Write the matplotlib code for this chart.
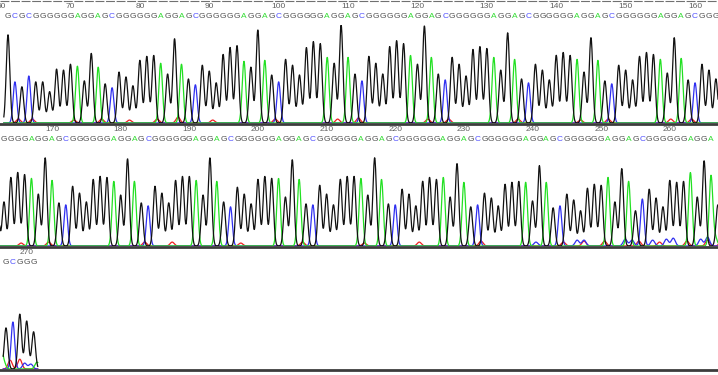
import numpy as np
import matplotlib
matplotlib.use('Agg')
import matplotlib.pyplot as plt
from matplotlib.lines import Line2D

# Base calls, positions 61..271
first_base = 61
calls = ("GCGCGGGGGG"
         "AGGAGCGGGGGG" "AGGAGCGGGGGG" "AGGAGCGGGGGG" "AGGAGCGGGGGG"
         "AGGAGCGGGGGG" "AGGAGCGGGGGG" "AGGAGCGGGGGG" "AGGAGCGGGGGG"
         "AGGAGCGGGGGG" "AGGAGCGGGGGG" "AGGAGCGGGGGG" "AGGAGCGGGGGG"
         "AGGAGCGGGGGG" "AGGAGCGGGGGG" "AGGAGCGGGGGG" "AGGAGCGGGGGG"
         "AGGAGCGGG")

# Peak heights (fraction of panel height)
heights_row1 = [0.90, 0.42, 0.37, 0.48, 0.42, 0.42, 0.32, 0.55, 0.54, 0.60,
                0.58, 0.43, 0.71, 0.57, 0.40, 0.36, 0.52, 0.47, 0.38, 0.64,
                0.68, 0.69, 0.61, 0.50, 0.86, 0.60, 0.45, 0.39, 0.59, 0.53,
                0.41, 0.70, 0.77, 0.79, 0.63, 0.57, 0.95, 0.64, 0.49, 0.42,
                0.65, 0.59, 0.49, 0.77, 0.83, 0.81, 0.67, 0.61, 1.00, 0.67,
                0.50, 0.43, 0.68, 0.61, 0.50, 0.78, 0.84, 0.81, 0.69, 0.60,
                0.99, 0.67, 0.50, 0.44, 0.67, 0.60, 0.48, 0.75, 0.78, 0.76,
                0.67, 0.54, 0.92, 0.65, 0.45, 0.41, 0.60, 0.54, 0.44, 0.69,
                0.72, 0.69, 0.65, 0.52, 0.87, 0.64, 0.43, 0.40, 0.59, 0.54,
                0.44, 0.68, 0.72, 0.70, 0.65, 0.51, 0.87, 0.66, 0.44, 0.41,
                0.60, 0.54]
heights_row2 = [0.45, 0.70, 0.75, 0.73, 0.69, 0.53, 0.90, 0.67, 0.44, 0.42,
                0.61, 0.54, 0.45, 0.68, 0.71, 0.70, 0.66, 0.52, 0.89, 0.66,
                0.44, 0.41, 0.61, 0.54, 0.44, 0.67, 0.71, 0.71, 0.67, 0.52,
                0.90, 0.66, 0.45, 0.40, 0.60, 0.53, 0.43, 0.68, 0.71, 0.69,
                0.69, 0.50, 0.88, 0.68, 0.43, 0.42, 0.62, 0.53, 0.42, 0.68,
                0.71, 0.71, 0.69, 0.52, 0.90, 0.68, 0.43, 0.42, 0.58, 0.53,
                0.41, 0.66, 0.70, 0.68, 0.70, 0.50, 0.84, 0.65, 0.40, 0.42,
                0.54, 0.49, 0.41, 0.63, 0.65, 0.66, 0.65, 0.46, 0.82, 0.65,
                0.39, 0.41, 0.53, 0.47, 0.36, 0.59, 0.63, 0.62, 0.70, 0.45,
                0.79, 0.66, 0.36, 0.48, 0.58, 0.49, 0.40, 0.67, 0.65, 0.66,
                0.75, 0.50, 0.87, 0.71]
heights_row3 = [0.42, 0.48, 0.56, 0.49, 0.38]

# small background bumps (base position, height)
t_noise_pos = [62.5, 64.5, 70.5, 74.5, 78.5, 82.5, 85.5, 90.5, 99.5, 108.5,
               111.5, 121.5, 124.5, 134.5, 143.5, 147.5, 156.5, 159.5,
               165.5, 169.5, 183.5, 187.5, 197.5, 206.5, 215.5, 223.5, 232.5,
               244.5, 247.5, 250.5, 255.5, 258.5, 262.5, 265.5, 267.6, 269.0]
t_noise_h = [0.04, 0.04, 0.03, 0.04, 0.03, 0.04, 0.06, 0.03, 0.04, 0.04,
             0.05, 0.04, 0.04, 0.04, 0.03, 0.04, 0.04, 0.04,
             0.03, 0.04, 0.04, 0.04, 0.03, 0.04, 0.03, 0.04, 0.05,
             0.04, 0.05, 0.05, 0.05, 0.04, 0.05, 0.06, 0.09, 0.10]
c_noise_pos = [240.5, 246.5, 247.5, 253.5, 254.5, 257.5, 259.5, 260.5, 264.5,
               265.5, 269.7, 270.6]
c_noise_h = [0.04, 0.06, 0.06, 0.07, 0.06, 0.06, 0.07, 0.08, 0.07, 0.09,
             0.06, 0.05]
a_noise_pos = [266.6, 271.5]
a_noise_h = [0.09, 0.07]

# row layout: first base, pixel x of first base, pixels per base, top px, baseline px
rows = [(61, 8, 6.94, 25, 123),
        (163, 4, 6.864, 148, 246),
        (267, 6, 6.9, 271, 369)]

trace_col = {'G': '#111111', 'A': '#22e022', 'C': '#3030f0', 'T': '#ee2020'}
text_col = {'G': '#505050', 'A': '#33dd33', 'C': '#5050ff'}

W, H = 718, 375
fig = plt.figure(figsize=(W / 100, H / 100), dpi=100)

heights = heights_row1 + heights_row2 + heights_row3
bases = np.arange(first_base, first_base + len(calls))
last_base = bases[-1]
xs = np.linspace(first_base - 0.6, last_base + 0.6, 6000)
sig = 0.26


def trace(pos, hts, s):
    y = np.zeros_like(xs)
    for p, h in zip(pos, hts):
        y += h * np.exp(-0.5 * ((xs - p) / s) ** 2)
    return y


curves = {}
for ch in 'GAC':
    pos = [b for b, c in zip(bases, calls) if c == ch]
    hts = [h for h, c in zip(heights, calls) if c == ch]
    curves[ch] = trace(pos, hts, sig)
curves['T'] = trace(t_noise_pos, t_noise_h, 0.3)
curves['C'] = curves['C'] + trace(c_noise_pos, c_noise_h, 0.3)
curves['A'] = curves['A'] + trace(a_noise_pos, a_noise_h, 0.3)

for i, (b0, px0, s, top, bot) in enumerate(rows):
    span = bot - top
    ax = fig.add_axes([0, 1 - bot / H, 1, span / H])
    x_left = b0 - px0 / s
    x_right = b0 + (W - px0) / s
    ax.set_xlim(x_left, x_right)
    ax.set_ylim(0, 1)
    ax.axis('off')

    mask = xs >= (b0 - 0.4) if i == 2 else np.ones_like(xs, dtype=bool)
    for ch in 'TCAG':
        ax.plot(xs[mask], curves[ch][mask], color=trace_col[ch], lw=0.9)

    ax.axhline(-0.008, color='#3c3c3c', lw=2.0, clip_on=False, zorder=5)

    y_num = 1 + 19 / span
    y_seq = 1 + 8.5 / span
    for n in range(60, last_base + 1, 10):
        if x_left - 1 <= n <= x_right and (i < 2 or n >= b0):
            ax.text(n, y_num, str(n), ha='center', va='center', fontsize=6,
                    color='#606060', family='Liberation Sans', clip_on=False)
    for b, c in zip(bases, calls):
        px = px0 + (b - b0) * s
        if b >= b0 and px < W - 1:
            ax.text(b, y_seq, c, ha='center', va='center', fontsize=6,
                    color=text_col[c], family='Liberation Sans', clip_on=False)

fig.add_artist(Line2D([0, 1], [1 - 0.6 / H] * 2, color='#707070', lw=0.8,
                      linestyle=(0, (8, 1.5))))

fig.savefig('out.png', dpi=100)
